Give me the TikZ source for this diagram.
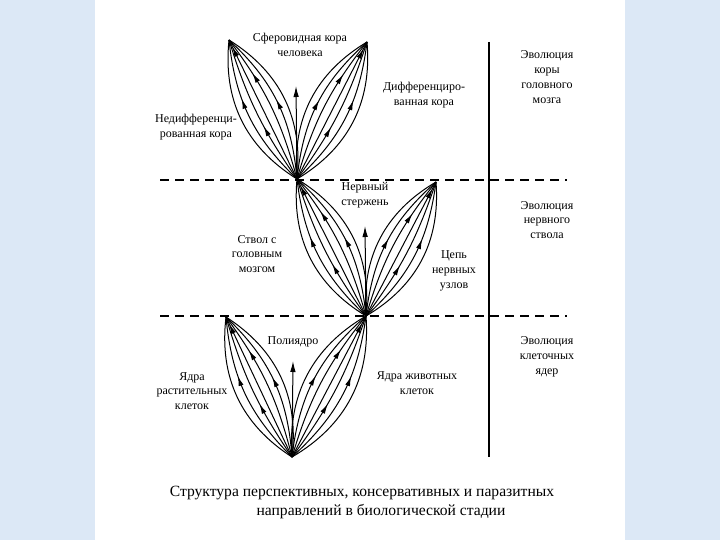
\documentclass[tikz,border=0pt]{standalone}
\usepackage{fontspec}
\setmainfont{Liberation Serif}
\usetikzlibrary{arrows.meta,decorations.markings}
\definecolor{paleblue}{RGB}{220,232,246}
\tikzset{
	headat/.style={postaction={decorate}, decoration={markings, mark=at position #1 with {\arrow{Latex[length=10pt,width=5pt]}}}},
	lbl/.style={align=center, font=\fontsize{12}{14.8}\selectfont, inner sep=0pt},
}
% one leaf of a fan: apex, tip, outer side, inner side
\def\fanleaf(#1)(#2)#3#4{%
	\draw (#1) to[bend #3=32] (#2);
	\draw[headat=0.62] (#1) to[bend #3=20] (#2);
	\draw[headat=0.40] (#1) to[bend #3=9] (#2);
	\draw[headat=0.95] (#1) -- (#2);
	\draw[headat=0.74] (#1) to[bend #4=11] (#2);
	\draw[headat=0.52] (#1) to[bend #4=21] (#2);
	\draw (#1) to[bend #4=32] (#2);
}

\begin{document}
\begin{tikzpicture}[x=1pt, y=-1pt, line width=1pt]
		%%%%% START %%%%%
		
		\fill[paleblue] (0, 0) rectangle (720, 540);
		\fill[white] (95, 0) rectangle (625, 540);
		\useasboundingbox (0, 0) rectangle (720, 540);
		
		\coordinate (apexTop) at (297, 179);
		\coordinate (apexMid) at (366, 316);
		\coordinate (apexBot) at (292, 457);
		\coordinate (tipTopL) at (229, 40);
		\coordinate (tipTopR) at (367, 42);
		\coordinate (tipMidR) at (436, 182);
		\coordinate (tipBotL) at (226, 317);
		\coordinate (crestTop) at (296, 86);
		\coordinate (crestMid) at (365, 226);
		\coordinate (crestBot) at (293, 361);
		
		\draw[line width=1.5pt, dash pattern=on 9pt off 6pt] (160, 180) -- (567, 180);
		\draw[line width=1.5pt, dash pattern=on 9pt off 6pt] (160, 316) -- (567, 316);
		\draw[line width=1.5pt] (489, 42) -- (489, 457);
		
		% cortex
		\fanleaf(apexTop)(tipTopL){left}{right}
		\fanleaf(apexTop)(tipTopR){right}{left}
		\draw[-{Latex[length=11pt,width=5.5pt]}] (apexTop) -- (crestTop);
		
		% nerve trunk
		\fanleaf(apexMid)(apexTop){left}{right}
		\fanleaf(apexMid)(tipMidR){right}{left}
		\draw[-{Latex[length=11pt,width=5.5pt]}] (apexMid) -- (crestMid);
		
		% cell nuclei
		\fanleaf(apexBot)(tipBotL){left}{right}
		\fanleaf(apexBot)(apexMid){right}{left}
		\draw[-{Latex[length=11pt,width=5.5pt]}] (apexBot) -- (crestBot);
		
		\node[lbl] (sphere) at (300, 44.5) {Сферовидная кора\\человека};
		\node[lbl] (diff) at (424, 95.5) {Дифференциро-\\ванная кора};
		\node[lbl] (undiff) at (196, 127) {Недифференци-\\рованная кора};
		\node[lbl] (rod) at (365, 195.5) {Нервный\\стержень};
		\node[lbl] (trunk) at (257, 254) {Ствол с\\головным\\мозгом};
		\node[lbl] (chain) at (454, 271) {Цепь\\нервных\\узлов};
		\node[lbl] (poly) at (293, 342) {Полиядро};
		\node[lbl] (plant) at (192, 391) {Ядра\\растительных\\клеток};
		\node[lbl] (animal) at (417, 383.5) {Ядра животных\\клеток};
		
		\node[lbl] (evoCortex) at (547, 77) {Эволюция\\коры\\головного\\мозга};
		\node[lbl] (evoTrunk) at (547, 220) {Эволюция\\нервного\\ствола};
		\node[lbl] (evoNuclei) at (547, 357) {Эволюция\\клеточных\\ядер};
		
		\node[font=\fontsize{15.6}{18}\selectfont, inner sep=0pt] (capA) at (362, 493) {Структура перспективных, консервативных и паразитных};
		\node[font=\fontsize{15.6}{18}\selectfont, inner sep=0pt] (capB) at (381, 512) {направлений в биологической стадии};
		
		%%%%% END %%%%%
\end{tikzpicture}
\end{document}
